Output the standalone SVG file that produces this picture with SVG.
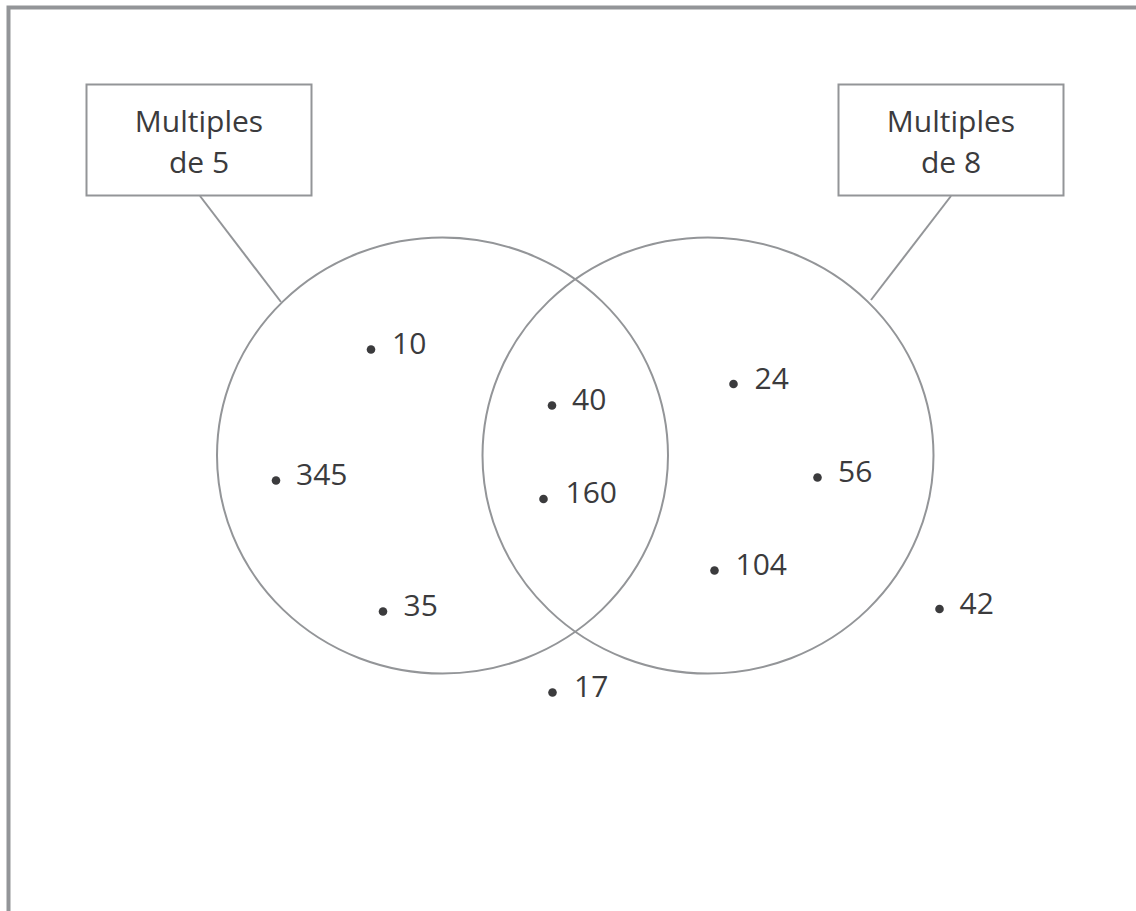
<svg xmlns="http://www.w3.org/2000/svg" width="1136" height="911" viewBox="0 0 1136 911">
<style>
  .frame { fill: none; stroke: #939598; stroke-width: 4; }
  .box { fill: #ffffff; stroke: #939598; stroke-width: 2; }
  .set { fill: none; stroke: #939598; stroke-width: 2; }
  .conn { fill: none; stroke: #939598; stroke-width: 2; }
  .lbl { font-family: "Open Sans", "Noto Sans", "Liberation Sans", sans-serif; font-size: 30px; fill: #3b3b3d; }
  .mid { text-anchor: middle; }
  .dot { fill: #3b3b3d; }
</style>
<rect width="1136" height="911" fill="#ffffff"/>
<path class="frame" d="M 8.5 911 V 7.5 H 1136"/>

<g id="connectors">
  <line class="conn" x1="200" y1="196" x2="281" y2="302"/>
  <line class="conn" x1="951" y1="196" x2="871" y2="300"/>
</g>

<g id="set-5">
  <ellipse class="set" cx="442.5" cy="455.5" rx="225.5" ry="218"/>
</g>
<g id="set-8">
  <ellipse class="set" cx="708" cy="455.5" rx="225.5" ry="218"/>
</g>

<g id="label-5">
  <rect class="box" x="86.5" y="84.5" width="225" height="111"/>
  <text class="lbl mid" x="199" y="132">Multiples</text>
  <text class="lbl mid" x="199" y="173">de 5</text>
</g>
<g id="label-8">
  <rect class="box" x="838.5" y="84.5" width="225" height="111"/>
  <text class="lbl mid" x="951" y="132">Multiples</text>
  <text class="lbl mid" x="951" y="173">de 8</text>
</g>

<g id="n10"><circle class="dot" cx="371" cy="349.5" r="4.3"/><text class="lbl" x="392" y="354">10</text></g>
<g id="n345"><circle class="dot" cx="276" cy="480.5" r="4.3"/><text class="lbl" x="296" y="485">345</text></g>
<g id="n35"><circle class="dot" cx="383" cy="611.5" r="4.3"/><text class="lbl" x="403.5" y="616">35</text></g>
<g id="n40"><circle class="dot" cx="552" cy="405.5" r="4.3"/><text class="lbl" x="572" y="410">40</text></g>
<g id="n160"><circle class="dot" cx="543.5" cy="499" r="4.3"/><text class="lbl" x="565.5" y="503">160</text></g>
<g id="n24"><circle class="dot" cx="733.5" cy="384" r="4.3"/><text class="lbl" x="754.5" y="388.5">24</text></g>
<g id="n56"><circle class="dot" cx="817.5" cy="477.5" r="4.3"/><text class="lbl" x="838" y="482">56</text></g>
<g id="n104"><circle class="dot" cx="714.5" cy="570.5" r="4.3"/><text class="lbl" x="735.5" y="575">104</text></g>
<g id="n42"><circle class="dot" cx="939.5" cy="609" r="4.3"/><text class="lbl" x="959.5" y="613.5">42</text></g>
<g id="n17"><circle class="dot" cx="552.5" cy="692.5" r="4.3"/><text class="lbl" x="574" y="697">17</text></g>
</svg>
